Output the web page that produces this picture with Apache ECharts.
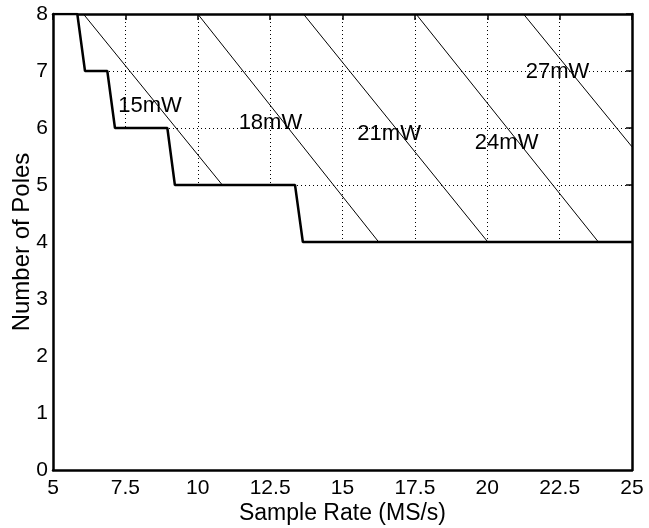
<!DOCTYPE html>
<html>
<head>
<meta charset="utf-8">
<script src="https://cdn.jsdelivr.net/npm/echarts@6/dist/echarts.min.js"></script>
<style>
html,body{margin:0;padding:0;background:#fff;}
#c{width:649px;height:528px;}
</style>
</head>
<body>
<div id="c"></div>
<script>
// Minimum-pole boundary (step curve): [sample rate MS/s, number of poles]
var boundaryX = [5, 5.84, 6.105, 6.876, 7.14, 8.95, 9.21, 13.36, 13.63, 25];
var boundaryY = [8, 8, 7, 7, 6, 6, 5, 5, 4, 4];

// Constant-power contour lines: start and end points
var contourNames = ['15mW', '18mW', '21mW', '24mW', '27mW'];
var contourStartX = [6.05, 10.0, 13.65, 17.54, 21.25];
var contourStartY = [8, 8, 8, 8, 8];
var contourEndX = [10.85, 16.25, 20.02, 23.84, 25];
var contourEndY = [5, 4, 4, 4, 5.67];

// Contour label positions
var labelX = [8.35, 12.51, 16.61, 20.67, 22.43];
var labelY = [6.39, 6.09, 5.9, 5.73, 6.99];

// Axis ticks
var xMin = 5, xMax = 25, xStep = 2.5;
var yMin = 0, yMax = 8, yStep = 1;

var FONT = 'Liberation Sans, Arial, Helvetica, sans-serif';

var boundaryData = boundaryX.map(function (x, i) { return [x, boundaryY[i]]; });

var series = [];
contourNames.forEach(function (n, i) {
  series.push({
    type: 'line',
    name: n,
    xAxisIndex: 0, yAxisIndex: 0,
    z: 1,
    symbol: 'none',
    silent: true,
    lineStyle: { color: '#000', width: 1 },
    data: [[contourStartX[i], contourStartY[i]], [contourEndX[i], contourEndY[i]]]
  });
});
series.push({
  type: 'line',
  name: 'boundary',
  xAxisIndex: 0, yAxisIndex: 0,
  z: 2,
  symbol: 'none',
  silent: true,
  lineStyle: { color: '#000', width: 2.5 },
  areaStyle: { color: '#fff', opacity: 1, origin: 'start' },
  data: boundaryData
});
series.push({
  type: 'scatter',
  name: 'labels',
  xAxisIndex: 0, yAxisIndex: 0,
  z: 3,
  symbolSize: 0,
  silent: true,
  itemStyle: { opacity: 1 },
  label: {
    show: true,
    position: 'inside',
    color: '#000',
    opacity: 1,
    fontSize: 22,
    fontFamily: FONT,
    formatter: function (p) { return p.name; }
  },
  data: contourNames.map(function (n, i) { return { name: n, value: [labelX[i], labelY[i]] }; })
});

var dotted = { color: '#000', width: 1, type: [1, 3] };

var option = {
  backgroundColor: '#fff',
  animation: false,
  grid: { left: 53, right: 17, top: 14, bottom: 58, containLabel: false, outerBoundsMode: 'none' },
  xAxis: [
    {
      type: 'value', position: 'bottom', min: xMin, max: xMax, interval: xStep, z: 10,
      name: 'Sample Rate (MS/s)', nameLocation: 'middle', nameGap: 32, nameMoveOverlap: false,
      nameTextStyle: { color: '#000', fontSize: 23, fontFamily: FONT },
      axisLine: { show: true, onZero: false, lineStyle: { color: '#000', width: 2.5 } },
      axisTick: { show: false },
      splitLine: { show: false },
      axisLabel: { color: '#000', fontSize: 21, fontFamily: FONT, margin: 8, showMinLabel: true, showMaxLabel: true }
    },
    {
      type: 'value', position: 'top', min: xMin, max: xMax, interval: xStep, z: 0,
      axisLine: { show: true, onZero: false, lineStyle: { color: '#000', width: 2.5 } },
      axisTick: { show: true, inside: true, length: 6, lineStyle: { color: '#000', width: 1.5 } },
      axisLabel: { show: false },
      splitLine: { show: true, lineStyle: dotted }
    }
  ],
  yAxis: [
    {
      type: 'value', position: 'left', min: yMin, max: yMax, interval: yStep, z: 10,
      name: 'Number of Poles', nameLocation: 'middle', nameGap: 19, nameMoveOverlap: false,
      nameTextStyle: { color: '#000', fontSize: 24, fontFamily: FONT },
      axisLine: { show: true, onZero: false, lineStyle: { color: '#000', width: 2.5 } },
      axisTick: { show: false },
      splitLine: { show: false },
      axisLabel: { color: '#000', fontSize: 21, fontFamily: FONT, margin: 5, showMinLabel: true, showMaxLabel: true }
    },
    {
      type: 'value', position: 'right', min: yMin, max: yMax, interval: yStep, z: 10,
      axisLine: { show: true, onZero: false, lineStyle: { color: '#000', width: 2.5 } },
      axisTick: { show: false },
      axisLabel: { show: false },
      splitLine: { show: false }
    },
    {
      type: 'value', position: 'right', offset: 0, min: yMin, max: yMax, interval: yStep, z: 0,
      axisLine: { show: false },
      axisTick: { show: true, inside: true, length: 6, lineStyle: { color: '#000', width: 1.5 } },
      axisLabel: { show: false },
      splitLine: { show: true, lineStyle: dotted }
    }
  ],
  series: series
};

var chart = echarts.init(document.getElementById('c'), null, { renderer: 'canvas' });
chart.setOption(option);
</script>
</body>
</html>
